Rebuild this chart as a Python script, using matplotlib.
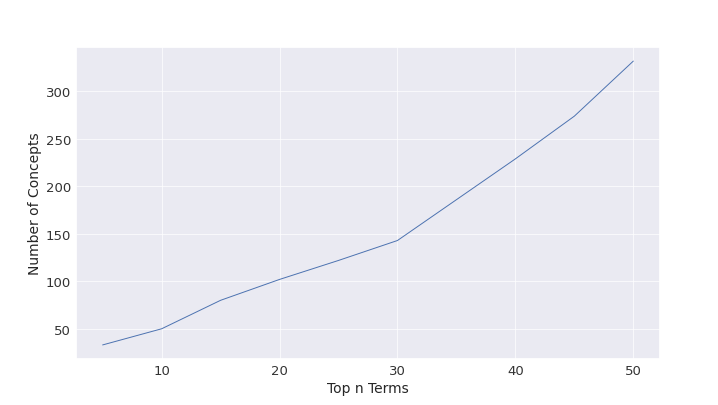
import matplotlib
matplotlib.use("Agg")
import matplotlib.pyplot as plt
import seaborn as sns

top_n = [5, 10, 15, 20, 25, 30, 35, 40, 45, 50]
n_concepts = [33, 50, 80, 102, 122, 143, 186, 229, 274, 332]

sns.set_theme(style="darkgrid")
plt.rcParams['font.family'] = ['DejaVu Sans']

fig, ax = plt.subplots(figsize=(7.18, 4.06), dpi=100)
fig.subplots_adjust(left=0.106, right=0.919, top=0.882, bottom=0.113)

ax.plot(top_n, n_concepts, color="#4c72b0", linewidth=0.7)

ax.grid(True, linewidth=0.5, color="white")
ax.set_xlabel("Top n Terms", fontsize=10, labelpad=3)
ax.set_ylabel("Number of Concepts", fontsize=10, labelpad=3)
ax.tick_params(labelsize=9.5, length=0, pad=3.5, labelcolor="#333333")

fig.savefig("out.png", dpi=100)
